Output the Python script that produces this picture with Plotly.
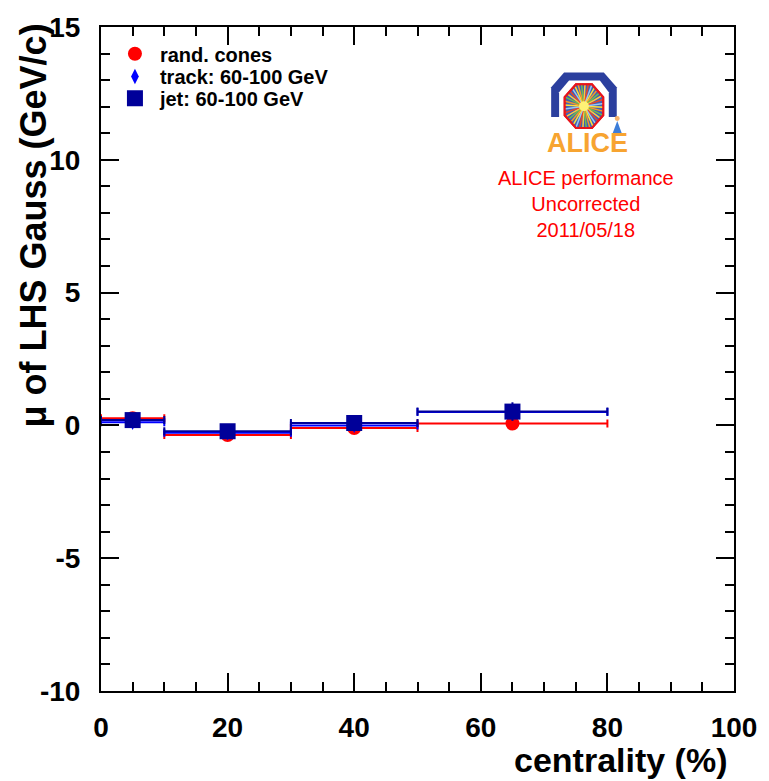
import math
import plotly.graph_objects as go

# Centrality bins (bin centre and half width, in %)
centrality = [5, 20, 40, 65]
centrality_halfwidth = [5, 10, 10, 15]

# Mean of the left-hand-side Gaussian fit (GeV/c) per method
mu_rand_cones = [0.27, -0.36, -0.10, 0.07]
mu_track = [0.12, -0.28, 0.00, 0.50]
mu_jet = [0.20, -0.22, 0.09, 0.52]

err_rand_cones = [0.10, 0.10, 0.10, 0.20]
err_track = [0.10, 0.10, 0.10, 0.25]
err_jet = [0.15, 0.10, 0.15, 0.35]

series_names = ["rand. cones", "track: 60-100 GeV", "jet: 60-100 GeV"]
series_colors = ["#FF0000", "#0000FF", "#000099"]
series_symbols = ["circle", "diamond-tall", "square"]
series_sizes = [14, 11, 16]

x_ticks = [0, 20, 40, 60, 80, 100]
y_ticks = [-10, -5, 0, 5, 10, 15]

W, H = 769, 781
ML, MR, MT, MB = 101, 31, 20, 90
PW, PH = W - ML - MR, H - MT - MB

FONT = "Liberation Sans, Arial, sans-serif"


def px(xp):
    return (xp - ML) / PW


def py(yp):
    return (H - MB - yp) / PH


fig = go.Figure()

legend_ids = ["legend", "legend2", "legend3"]
legend_rows = [47, 70, 92]

for name, ys, es, col, sym, sz, lg in zip(
    series_names,
    [mu_rand_cones, mu_track, mu_jet],
    [err_rand_cones, err_track, err_jet],
    series_colors,
    series_symbols,
    series_sizes,
    legend_ids,
):
    fig.add_trace(
        go.Scatter(
            x=centrality,
            y=ys,
            mode="markers",
            name=name,
            legend=lg,
            marker=dict(symbol=sym, size=sz, color=col, line=dict(width=0)),
            error_x=dict(type="data", array=centrality_halfwidth, color=col,
                         thickness=2, width=4),
            error_y=dict(type="data", array=es, color=col, thickness=2, width=0),
        )
    )

axis_common = dict(
    showline=True,
    linecolor="black",
    linewidth=2,
    mirror="allticks",
    ticks="inside",
    tickwidth=2,
    tickcolor="black",
    ticklen=18,
    showgrid=False,
    zeroline=False,
    tickfont=dict(family=FONT, size=28, color="black", weight="bold"),
)

fig.update_xaxes(
    range=[0, 100],
    tickvals=x_ticks,
    ticktext=[str(v) for v in x_ticks],
    minor=dict(dtick=5, tick0=0, ticks="inside", ticklen=9, tickwidth=2,
               tickcolor="black", showgrid=False),
    ticklabelstandoff=10,
    **axis_common,
)
fig.update_yaxes(
    range=[-10, 15],
    tickvals=y_ticks,
    ticktext=[str(v) for v in y_ticks],
    minor=dict(dtick=1, tick0=0, ticks="inside", ticklen=9, tickwidth=2,
               tickcolor="black", showgrid=False),
    ticklabelstandoff=13,
    **axis_common,
)

annotations = [
    # axis titles
    dict(text="centrality (%)", x=px(734), y=py(761), xanchor="right",
         yanchor="middle", showarrow=False,
         font=dict(family=FONT, size=34, color="black", weight="bold")),
    dict(text="\u03bc of LHS Gauss (GeV/c)", x=px(33), y=py(14), xanchor="center",
         yanchor="top", textangle=-90, showarrow=False,
         font=dict(family=FONT, size=36, color="black", weight="bold")),
    # performance label
    dict(text="ALICE performance<br>Uncorrected<br>2011/05/18", x=px(589), y=py(199),
         xanchor="center", yanchor="middle", showarrow=False, align="center",
         font=dict(family=FONT, size=20, color="#FF0000")),
    dict(text="ALICE", x=px(591), y=py(137), xanchor="center", yanchor="middle",
         showarrow=False, font=dict(family=FONT, size=27, color="#F7A431", weight="bold")),
]
for a in annotations:
    a["xref"] = "paper"
    a["yref"] = "paper"

# ALICE detector logo drawn from simple paths
shapes = []


def poly(points, fill, line_col=None, lw=0):
    path = "M " + " L ".join(f"{px(a):.5f},{py(b):.5f}" for a, b in points) + " Z"
    shapes.append(dict(type="path", xref="paper", yref="paper", path=path,
                       fillcolor=fill, line=dict(color=line_col or fill, width=lw),
                       layer="above"))


poly([(567, 66), (607, 66), (620, 81), (620, 111), (554, 111), (554, 81)], "#2B3F9E")
poly([(572, 74), (603, 74), (612, 86), (612, 113), (562, 113), (562, 86)], "white")

cx, cy, rx, ry = 587, 100, 21, 24
octagon = [(cx + rx * math.cos(math.radians(22.5 + 45 * k)),
            cy + ry * math.sin(math.radians(22.5 + 45 * k))) for k in range(8)]
poly(octagon, "#3F5FB5", "#E8141B", 2)

spoke_colors = ["#FFE03A", "#F39A2B", "#6FBF4A", "#FFC83D", "#E8462A", "#9BC8F0"]
for k in range(36):
    ang = math.radians(k * 10 + 3)
    # distance to the octagon edge along this direction (approximate)
    rr = 0.95 / max(abs(math.cos(ang)), abs(math.sin(ang)),
                    (abs(math.cos(ang)) + abs(math.sin(ang))) / 1.3)
    x2 = cx + rx * rr * math.cos(ang)
    y2 = cy + ry * rr * math.sin(ang)
    shapes.append(dict(type="line", xref="paper", yref="paper",
                       x0=px(cx), y0=py(cy), x1=px(x2), y1=py(y2),
                       line=dict(color=spoke_colors[k % len(spoke_colors)], width=1.5),
                       layer="above"))
shapes.append(dict(type="circle", xref="paper", yref="paper",
                   x0=px(cx - 5), x1=px(cx + 5), y0=py(cy - 5), y1=py(cy + 5),
                   fillcolor="#FFF176", line=dict(width=0), layer="above"))
poly(octagon, "rgba(0,0,0,0)", "#E8141B", 2)

# small figure beside the logo
shapes.append(dict(type="circle", xref="paper", yref="paper",
                   x0=px(618), x1=px(623), y0=py(110), y1=py(115),
                   fillcolor="#F6B26B", line=dict(width=0), layer="above"))
poly([(620.5, 115), (625, 127), (616, 127)], "#3D7DD8")

legend_style = dict(
    xanchor="left", yanchor="middle",
    bgcolor="rgba(0,0,0,0)", borderwidth=0,
    font=dict(family=FONT, size=20, color="black", weight="bold"),
    itemwidth=40,
)

fig.update_layout(
    width=W,
    height=H,
    margin=dict(l=ML, r=MR, t=MT, b=MB),
    paper_bgcolor="white",
    plot_bgcolor="white",
    showlegend=True,
    legend=dict(x=px(110), y=py(legend_rows[0]), **legend_style),
    legend2=dict(x=px(110), y=py(legend_rows[1]), **legend_style),
    legend3=dict(x=px(110), y=py(legend_rows[2]), **legend_style),
    annotations=annotations,
    shapes=shapes,
)

fig.write_html("out.html")
